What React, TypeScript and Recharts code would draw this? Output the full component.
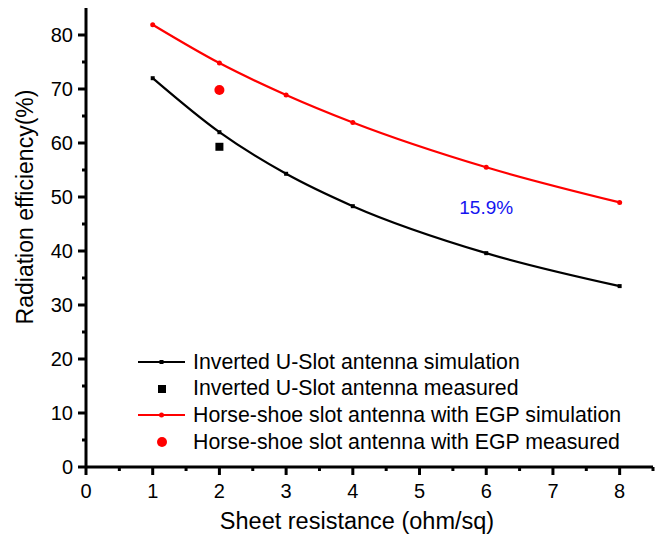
import {
  ComposedChart,
  Line,
  Scatter,
  XAxis,
  YAxis,
  ReferenceDot,
} from "recharts";

const FONT = '"Liberation Sans", Arial, sans-serif';

const sheetResistance = [1, 2, 3, 4, 6, 8];
const uSlotSim = [72.0, 62.0, 54.3, 48.3, 39.6, 33.5];
const horseShoeSim = [81.9, 74.8, 68.9, 63.8, 55.5, 49.0];
const uSlotMeasured = [{ x: 2, y: 59.3 }];
const horseShoeMeasured = [{ x: 2, y: 69.8 }];

const xTicks = [0, 0.5, 1, 1.5, 2, 2.5, 3, 3.5, 4, 4.5, 5, 5.5, 6, 6.5, 7, 7.5, 8, 8.5];
const yTicks = [0, 5, 10, 15, 20, 25, 30, 35, 40, 45, 50, 55, 60, 65, 70, 75, 80];

const annotation = { x: 6, y: 48, text: "15.9%" };

const seriesNames = [
  "Inverted U-Slot antenna simulation",
  "Inverted U-Slot antenna measured",
  "Horse-shoe slot antenna with EGP simulation",
  "Horse-shoe slot antenna with EGP measured",
];

const uSlotData = sheetResistance.map((x, i) => ({ x, y: uSlotSim[i] }));
const horseShoeData = sheetResistance.map((x, i) => ({ x, y: horseShoeSim[i] }));

function XTick({ x, y, payload }: any) {
  const major = Number.isInteger(payload.value);
  return (
    <g>
      <line x1={x} x2={x} y1={y} y2={y + (major ? 8 : 4)} stroke="#000" strokeWidth={3} />
      {major && (
        <text x={x} y={y + 31} textAnchor="middle" fontSize={20} fontFamily={FONT} fill="#000">
          {payload.value}
        </text>
      )}
    </g>
  );
}

function YTick({ x, y, payload }: any) {
  const major = payload.value % 10 === 0;
  return (
    <g>
      <line x1={x - (major ? 8 : 4)} x2={x} y1={y} y2={y} stroke="#000" strokeWidth={3} />
      {major && (
        <text x={x - 13} y={y} dy="0.35em" textAnchor="end" fontSize={20} fontFamily={FONT} fill="#000">
          {payload.value}
        </text>
      )}
    </g>
  );
}

function SquareMark({ cx, cy, size }: { cx?: number; cy?: number; size: number }) {
  if (cx == null || cy == null) return null;
  return <rect x={cx - size / 2} y={cy - size / 2} width={size} height={size} fill="#000" />;
}

// legend is drawn on top of the plot, Origin style
function LegendBox() {
  const rows = [
    { color: "#000", line: true, mark: "square-small" },
    { color: "#000", line: false, mark: "square" },
    { color: "#ff0000", line: true, mark: "circle-small" },
    { color: "#ff0000", line: false, mark: "circle" },
  ];
  return (
    <div style={{ position: "absolute", left: 138, top: 349, fontFamily: FONT, fontSize: 21.3, color: "#000" }}>
      {rows.map((r, i) => (
        <div key={i} style={{ display: "flex", alignItems: "center", height: 26.6 }}>
          <svg width={55} height={20} style={{ flex: "none" }}>
            {r.line && <line x1={0} x2={47} y1={10} y2={10} stroke={r.color} strokeWidth={2} />}
            {r.mark === "square-small" && <rect x={21.5} y={8} width={4} height={4} fill={r.color} />}
            {r.mark === "square" && <rect x={20} y={6} width={8} height={8} fill={r.color} />}
            {r.mark === "circle-small" && <circle cx={23.5} cy={10} r={2.5} fill={r.color} />}
            {r.mark === "circle" && <circle cx={24} cy={10} r={5} fill={r.color} />}
          </svg>
          <span style={{ whiteSpace: "nowrap" }}>{seriesNames[i]}</span>
        </div>
      ))}
    </div>
  );
}

export default function App() {
  return (
    <div style={{ position: "absolute", left: 0, top: 0, width: 668, height: 536, background: "#fff" }}>
      <ComposedChart width={668} height={536} margin={{ top: 8, right: 15, bottom: 0, left: 0 }}>
        <XAxis
          type="number"
          dataKey="x"
          domain={[0, 8.5]}
          ticks={xTicks}
          interval={0}
          height={69}
          tickSize={0}
          tickMargin={0}
          tick={<XTick />}
          axisLine={{ stroke: "#000", strokeWidth: 3 }}
          tickLine={false}
          allowDataOverflow
        />
        <YAxis
          type="number"
          domain={[0, 85]}
          ticks={yTicks}
          interval={0}
          width={86}
          tickSize={0}
          tickMargin={0}
          tick={<YTick />}
          axisLine={{ stroke: "#000", strokeWidth: 3 }}
          tickLine={false}
          allowDataOverflow
        />
        <text
          x={33}
          y={207}
          transform="rotate(-90 33 207)"
          textAnchor="middle"
          fontSize={23}
          fontFamily={FONT}
          fill="#000"
        >
          Radiation efficiency(%)
        </text>
        <text x={357} y={529} textAnchor="middle" fontSize={23.5} fontFamily={FONT} fill="#000">
          Sheet resistance (ohm/sq)
        </text>
        <Line
          data={uSlotData}
          dataKey="y"
          type="monotone"
          stroke="#000"
          strokeWidth={2.2}
          dot={(p: any) => <SquareMark key={p.index} cx={p.cx} cy={p.cy} size={4} />}
          activeDot={false}
          isAnimationActive={false}
          name={seriesNames[0]}
        />
        <Scatter
          data={uSlotMeasured}
          dataKey="y"
          shape={(p: any) => <SquareMark cx={p.cx} cy={p.cy} size={8} />}
          isAnimationActive={false}
          name={seriesNames[1]}
        />
        <Line
          data={horseShoeData}
          dataKey="y"
          type="monotone"
          stroke="#ff0000"
          strokeWidth={2.2}
          dot={{ r: 2.5, fill: "#ff0000", stroke: "none" }}
          activeDot={false}
          isAnimationActive={false}
          name={seriesNames[2]}
        />
        <Scatter
          data={horseShoeMeasured}
          dataKey="y"
          fill="#ff0000"
          shape={(p: any) => <circle cx={p.cx} cy={p.cy} r={5} fill="#ff0000" />}
          isAnimationActive={false}
          name={seriesNames[3]}
        />
        <ReferenceDot
          x={annotation.x}
          y={annotation.y}
          r={0}
          shape={(p: any) => (
            <text x={p.cx} y={p.cy} dy="0.35em" textAnchor="middle" fontSize={19} fontFamily={FONT} fill="#1414f0">
              {annotation.text}
            </text>
          )}
        />
      </ComposedChart>
      <LegendBox />
    </div>
  );
}
